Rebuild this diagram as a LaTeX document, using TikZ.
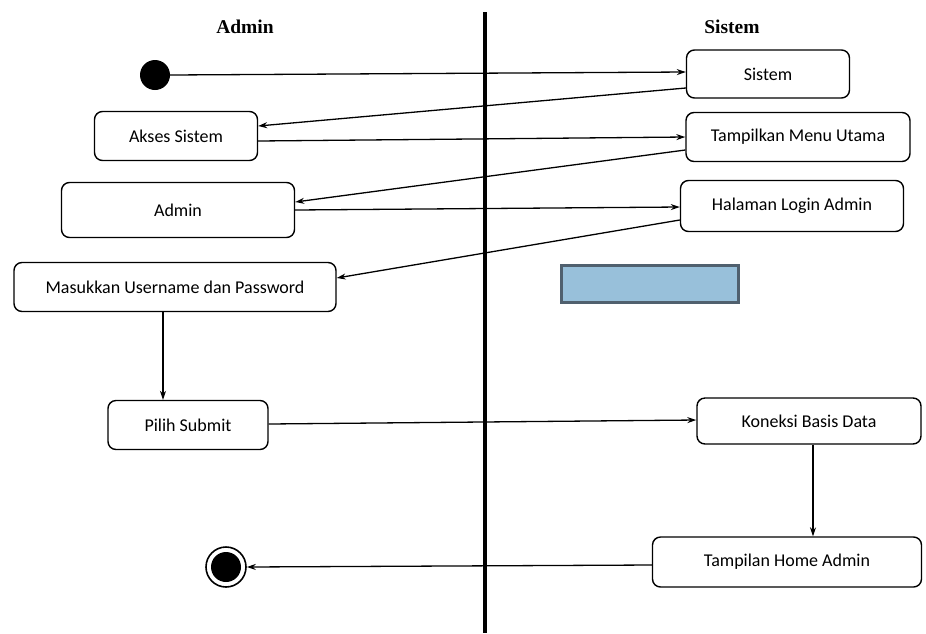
\documentclass[tikz,border=0pt]{standalone}
\usepackage{fontspec}
\setmainfont{Carlito}
\newfontfamily\hdrfont{Liberation Serif}
\usetikzlibrary{arrows.meta}
\definecolor{boxfill}{RGB}{152,192,218}
\definecolor{boxedge}{RGB}{80,96,110}
\begin{document}
\begin{tikzpicture}[x=1pt,y=-1pt,
  act/.style={draw=black, line width=1.4pt, rounded corners=8pt, fill=white, font=\fontsize{18}{20}\selectfont, inner sep=0pt},
  hdr/.style={font=\hdrfont\bfseries\fontsize{19.5}{22}\selectfont},
  flow/.style={-{Stealth[length=9pt,width=6pt]}, line width=1.3pt}]
\useasboundingbox (0,0) rectangle (926,633);
\fill[white] (0,0) rectangle (926,633);
% swimlane divider
\draw[line width=4pt] (485,12) -- (485,633);
\node[hdr] (hA) at (245,27) {Admin};
\node[hdr] (hS) at (732,27) {Sistem};
% start / end
\node[circle, fill=black, minimum size=30pt, inner sep=0pt] (start) at (155,75) {};
\node[circle, draw=black, line width=1.6pt, minimum size=40pt, inner sep=0pt] (end) at (226,567) {};
\node[circle, fill=black, minimum size=30pt, inner sep=0pt] (endin) at (226,567) {};
% activities
\node[act, minimum width=163pt, minimum height=48pt] (sis) at (768,74) {Sistem};
\node[act, minimum width=163pt, minimum height=49pt] (akses) at (176,136) {Akses Sistem};
\node[act, minimum width=224pt, minimum height=49pt] (menu) at (798,137) {Tampilkan Menu Utama};
\node[act, minimum width=233pt, minimum height=55pt] (admin) at (178,210) {Admin};
\node[act, minimum width=223pt, minimum height=51pt] (login) at (792,206) {Halaman Login Admin};
\node[act, minimum width=322pt, minimum height=49pt] (masuk) at (175,287) {Masukkan Username dan Password};
\node[act, minimum width=160pt, minimum height=49pt] (pilih) at (188,425) {Pilih Submit};
\node[act, minimum width=224pt, minimum height=46pt] (kon) at (809,421) {Koneksi Basis Data};
\node[act, minimum width=269pt, minimum height=50pt] (home) at (787,562) {Tampilan Home Admin};
\node[draw=boxedge, line width=3pt, fill=boxfill, minimum width=177pt, minimum height=37pt, inner sep=0pt] (blue) at (649.5,283.5) {};
% flows
\draw[flow] (start.east) -- (sis.west |- 0,72);
\draw[flow] (sis.west |- 0,88) -- (akses.east |- 0,126);
\draw[flow] (akses.east |- 0,141) -- (menu.west |- 0,137);
\draw[flow] (menu.west |- 0,150) -- (admin.east |- 0,202);
\draw[flow] (admin.east |- 0,210) -- (login.west |- 0,207);
\draw[flow] (login.west |- 0,220) -- (masuk.east |- 0,278);
\draw[flow] (masuk.south -| 163,0) -- (pilih.north -| 163,0);
\draw[flow] (pilih.east |- 0,424) -- (kon.west |- 0,420);
\draw[flow] (kon.south -| 813,0) -- (home.north -| 813,0);
\draw[flow] (home.west |- 0,565) -- (end.east);
\end{tikzpicture}
\end{document}
